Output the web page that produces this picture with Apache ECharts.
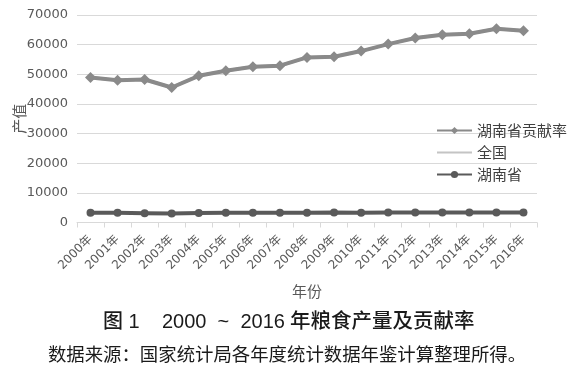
<!DOCTYPE html>
<html><head><meta charset="utf-8">
<script src="https://cdn.jsdelivr.net/npm/echarts@6/dist/echarts.min.js"></script>
<style>html,body{margin:0;padding:0;background:#fff}#c{width:574px;height:368px}</style>
</head><body><div id="c"></div>
<script>
const categories = ['2000年','2001年','2002年','2003年','2004年','2005年','2006年','2007年','2008年','2009年','2010年','2011年','2012年','2013年','2014年','2015年','2016年'];
// stacked series (Excel stacked line): 湖南省 bottom, 全国 middle, 贡献率 top
const hunan = [3300,3250,3150,3050,3200,3250,3250,3250,3300,3350,3300,3350,3400,3350,3400,3400,3400];
const national = [45624,44764,45094,42494,46274,47914,49275,49645,52385,52545,54525,56835,58815,59995,60275,61965,61285];
const rate = [6.2,6.0,5.8,5.7,5.6,5.6,5.4,5.4,5.3,5.5,5.2,5.2,5.1,4.9,4.9,4.8,4.9];
const yTicks = [0,10000,20000,30000,40000,50000,60000,70000];
const captionParts = ['图 1', '2000  ~  2016', '年粮食产量及贡献率'];
const captionSource = '数据来源：国家统计局各年度统计数据年鉴计算整理所得。';

const FONT = '"Noto Sans CJK SC", "Liberation Sans", sans-serif';
const NUMFONT = '"DejaVu Sans", "Noto Sans CJK SC", sans-serif';
const CAPFONT = '"Liberation Sans", "Noto Sans CJK SC", sans-serif';
const chart = echarts.init(document.getElementById('c'), null, {renderer:'canvas'});
chart.setOption({
  animation:false,
  textStyle:{fontFamily:FONT},
  grid:{left:77,right:37,top:15,bottom:145.5,containLabel:false,outerBoundsMode:'none'},
  legend:{
    orient:'vertical', left:431, top:118,
    itemWidth:35, itemHeight:9, itemGap:7,
    data:[
      {name:'湖南省贡献率'},
      {name:'全国', itemStyle:{color:'rgba(0,0,0,0)',opacity:0,borderWidth:0}},
      {name:'湖南省'}
    ],
    textStyle:{fontSize:15,color:'#404040',fontFamily:FONT}
  },
  xAxis:{
    type:'category', data:categories, boundaryGap:true,
    name:'年份', nameLocation:'middle', nameGap:61, nameMoveOverlap:false,
    nameTextStyle:{fontSize:15,color:'#595959'},
    axisLine:{lineStyle:{color:'#d9d9d9'}},
    axisTick:{show:true,length:5,lineStyle:{color:'#d9d9d9'}},
    axisLabel:{rotate:45,fontSize:12,color:'#595959',margin:15,interval:0,fontFamily:NUMFONT}
  },
  yAxis:{
    type:'value', min:yTicks[0], max:yTicks[yTicks.length-1], interval:10000,
    name:'产值', nameLocation:'middle', nameGap:50, nameRotate:90, nameMoveOverlap:false,
    nameTextStyle:{fontSize:15,color:'#595959'},
    axisLine:{show:false}, axisTick:{show:false},
    axisLabel:{fontSize:13,color:'#595959',margin:9,fontFamily:NUMFONT,formatter:function(v){return String(v);}},
    splitLine:{lineStyle:{color:'#d9d9d9',width:1}}
  },
  series:[
    {name:'湖南省',type:'line',stack:'s',data:hunan,
     symbol:'circle',symbolSize:8,
     lineStyle:{color:'#5a5a5a',width:4},itemStyle:{color:'#5a5a5a'},z:3},
    {name:'全国',type:'line',stack:'s',data:national,
     symbol:'none',
     lineStyle:{color:'#c4c4c4',width:3},itemStyle:{color:'#c4c4c4'},z:2},
    {name:'湖南省贡献率',type:'line',stack:'s',data:rate,
     symbol:'diamond',symbolSize:11,
     lineStyle:{color:'#8a8a8a',width:4},itemStyle:{color:'#8a8a8a'},z:4}
  ],
  graphic:[
    {type:'text',left:103,top:312,style:{text:captionParts[0],font:'500 20px '+CAPFONT,fill:'#1a1a1a'}},
    {type:'text',left:162,top:312,style:{text:captionParts[1],font:'500 20px '+CAPFONT,fill:'#1a1a1a'}},
    {type:'text',left:290,top:312,style:{text:captionParts[2],font:'500 20.5px '+CAPFONT,fill:'#1a1a1a'}},
    {type:'text',left:'center',top:345,style:{text:captionSource,font:'400 18.4px '+FONT,fill:'#1a1a1a'}}
  ]
});
</script></body></html>
